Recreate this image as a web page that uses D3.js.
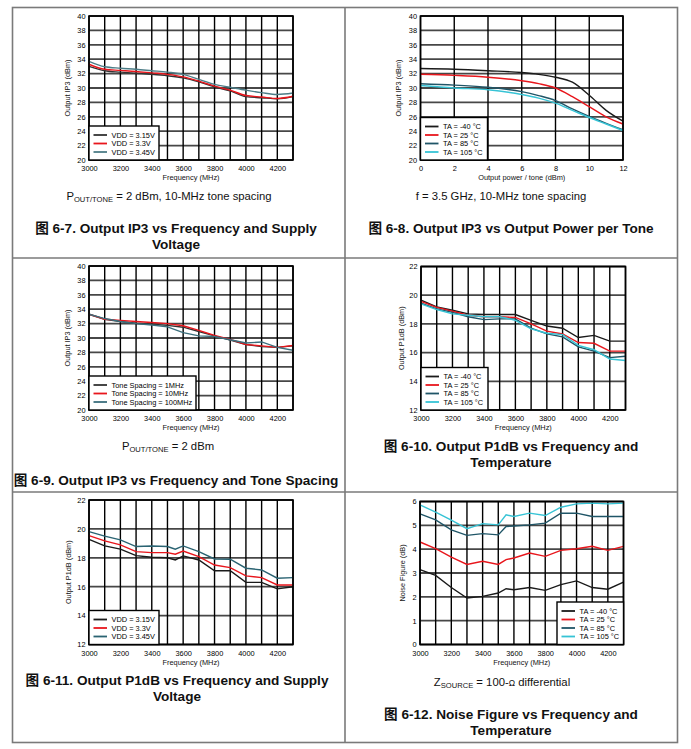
<!DOCTYPE html>
<html>
<head>
<meta charset="utf-8">
<script src="https://cdn.jsdelivr.net/npm/d3@7"></script>
<style>
  body { margin: 0; background: #fff; }
  svg { display: block; }
  text { font-family: "Liberation Sans", Arial, "Noto Sans CJK SC", sans-serif; fill: #111; }
</style>
</head>
<body>
<svg id="fig" width="691" height="749"></svg>
<script>
'use strict';

// x values
var freqA = [3000, 3100, 3200, 3300, 3400, 3500, 3600, 3700, 3800, 3900, 4000, 4100, 4200, 4300];
var freqB = [3000, 3100, 3200, 3300, 3400, 3500, 3550, 3600, 3700, 3800, 3900, 4000, 4100, 4200, 4300];
var powerTone = [0, 2, 4, 6, 7, 8, 9, 10, 11, 12];

// tick labels
var freqTicks = [3000, 3200, 3400, 3600, 3800, 4000, 4200];
var powerTicks = [0, 2, 4, 6, 8, 10, 12];
var ip3Ticks = [20, 22, 24, 26, 28, 30, 32, 34, 36, 38, 40];
var p1dbTicks = [12, 14, 16, 18, 20, 22];
var nfTicks = [0, 1, 2, 3, 4, 5, 6];

// 6-7 OIP3 vs freq / VDD
var oip3Vdd315 = [33.0, 32.4, 32.2, 32.05, 31.9, 31.7, 31.4, 30.85, 30.15, 29.6, 28.8, 28.65, 28.5, 28.8];
var oip3Vdd33  = [33.3, 32.6, 32.45, 32.3, 32.1, 31.9, 31.55, 30.95, 30.25, 29.7, 28.95, 28.75, 28.55, 28.85];
var oip3Vdd345 = [33.7, 32.95, 32.75, 32.6, 32.4, 32.2, 31.9, 31.2, 30.5, 30.1, 29.7, 29.35, 29.1, 29.3];

// 6-8 OIP3 vs output power / temp
var oip3PwrTm40 = [32.7, 32.6, 32.4, 32.15, 31.9, 31.5, 30.8, 29.0, 26.9, 25.4];
var oip3PwrT25  = [31.9, 31.75, 31.5, 31.0, 30.6, 30.0, 28.8, 27.4, 26.0, 25.0];
var oip3PwrT85  = [30.6, 30.4, 30.1, 29.5, 28.95, 28.25, 27.1, 26.05, 25.1, 24.2];
var oip3PwrT105 = [30.35, 30.0, 29.75, 29.1, 28.6, 27.9, 26.9, 25.9, 25.0, 24.1];

// 6-9 OIP3 vs freq / tone spacing
var oip3Sp1   = [33.3, 32.6, 32.3, 32.05, 31.9, 31.75, 31.5, 30.9, 30.3, 29.7, 29.1, 28.8, 28.7, 28.9];
var oip3Sp10  = [33.3, 32.6, 32.45, 32.3, 32.15, 32.0, 31.7, 31.05, 30.35, 29.8, 29.1, 28.9, 28.7, 28.95];
var oip3Sp100 = [33.3, 32.7, 32.3, 32.0, 31.8, 31.55, 30.75, 30.3, 30.2, 29.75, 29.3, 29.45, 28.7, 28.3];

// 6-10 P1dB vs freq / temp
var p1dbTm40 = [19.65, 19.18, 18.95, 18.7, 18.65, 18.65, 18.65, 18.25, 17.85, 17.7, 17.05, 17.2, 16.8, 16.8];
var p1dbT25  = [19.57, 19.15, 18.88, 18.6, 18.5, 18.5, 18.45, 18.0, 17.5, 17.3, 16.7, 16.65, 16.1, 16.1];
var p1dbT85  = [19.45, 19.05, 18.8, 18.5, 18.3, 18.35, 18.35, 17.7, 17.3, 17.1, 16.4, 16.1, 15.65, 15.75];
var p1dbT105 = [19.4, 19.0, 18.7, 18.6, 18.5, 18.5, 18.25, 17.65, 17.35, 17.25, 16.5, 16.2, 15.55, 15.45];

// 6-11 P1dB vs freq / VDD
var p1dbVdd315 = [19.28, 18.82, 18.6, 18.15, 18.04, 18.0, 17.85, 18.13, 17.85, 17.1, 17.1, 16.3, 16.3, 15.85, 16.0];
var p1dbVdd33  = [19.53, 19.17, 18.9, 18.43, 18.36, 18.36, 18.25, 18.47, 18.08, 17.5, 17.32, 16.75, 16.63, 16.12, 16.12];
var p1dbVdd345 = [19.81, 19.5, 19.24, 18.78, 18.82, 18.78, 18.6, 18.82, 18.43, 17.92, 17.9, 17.28, 17.16, 16.59, 16.63];

// 6-12 NF vs freq / temp
var nfTm40 = [3.14, 2.9, 2.39, 1.95, 2.02, 2.16, 2.34, 2.3, 2.39, 2.27, 2.51, 2.67, 2.39, 2.32, 2.62];
var nfT25  = [4.3, 4.02, 3.67, 3.36, 3.49, 3.36, 3.56, 3.63, 3.84, 3.7, 3.95, 4.02, 4.12, 3.95, 4.12];
var nfT85  = [5.48, 5.23, 4.81, 4.58, 4.65, 4.6, 4.95, 4.97, 5.02, 5.09, 5.51, 5.51, 5.37, 5.37, 5.37];
var nfT105 = [5.86, 5.55, 5.22, 4.86, 5.07, 5.02, 5.44, 5.37, 5.51, 5.41, 5.76, 5.9, 5.93, 5.9, 5.93];

var BLACK = '#1a1a1a', RED = '#e8161c', TEAL = '#1f5567', CYAN = '#36c3d5';

var svg = d3.select('#fig');

// page frame
svg.append('rect')
  .attr('x', 12.5).attr('y', 7.5).attr('width', 665).attr('height', 735)
  .attr('fill', 'none').attr('stroke', '#7a7a7a').attr('stroke-width', 1.6);
svg.append('line').attr('x1', 345).attr('x2', 345).attr('y1', 7.5).attr('y2', 742.5)
  .attr('stroke', '#7a7a7a').attr('stroke-width', 1.6);
[258, 492].forEach(function(yy) {
  svg.append('line').attr('x1', 12.5).attr('x2', 677.5).attr('y1', yy).attr('y2', yy)
    .attr('stroke', '#7a7a7a').attr('stroke-width', 1.6);
});

function drawChart(c) {
  var g = svg.append('g');
  var x = d3.scaleLinear().domain(c.xDomain).range([c.x0, c.x1]);
  var y = d3.scaleLinear().domain(c.yDomain).range([c.y1, c.y0]);

  // horizontal grid (grey)
  g.selectAll('.hgrid').data(c.yGrid).enter().append('line')
    .attr('class', 'hgrid')
    .attr('x1', c.x0).attr('x2', c.x1)
    .attr('y1', d => y(d)).attr('y2', d => y(d))
    .attr('stroke', '#474747').attr('stroke-width', 1.8);
  // vertical grid (black)
  g.selectAll('.vgrid').data(c.xGrid).enter().append('line')
    .attr('class', 'vgrid')
    .attr('x1', d => x(d)).attr('x2', d => x(d))
    .attr('y1', c.y0).attr('y2', c.y1)
    .attr('stroke', '#000').attr('stroke-width', 1.4);

  // series
  var line = d3.line().x(d => x(d[0])).y(d => y(d[1])).curve(c.curve || d3.curveLinear);
  c.series.forEach(function(s) {
    g.append('path')
      .datum(c.xs.map((v, i) => [v, s.values[i]]))
      .attr('d', line)
      .attr('fill', 'none')
      .attr('stroke', s.color)
      .attr('stroke-width', 1.4);
  });

  g.append('rect')
    .attr('x', c.x0).attr('y', c.y0).attr('width', c.x1 - c.x0).attr('height', c.y1 - c.y0)
    .attr('fill', 'none').attr('stroke', '#000').attr('stroke-width', 1.6);

  // axes
  var xa = g.append('g').attr('transform', 'translate(0,' + c.y1 + ')')
    .call(d3.axisBottom(x).tickValues(c.xTicks).tickSize(0).tickPadding(6).tickFormat(d3.format('d')));
  var ya = g.append('g').attr('transform', 'translate(' + c.x0 + ',0)')
    .call(d3.axisLeft(y).tickValues(c.yTicks).tickSize(0).tickPadding(3.5).tickFormat(d3.format('d')));
  [xa, ya].forEach(function(a) {
    a.select('.domain').remove();
    a.attr('font-family', null).attr('font-size', null);
    a.selectAll('text').attr('font-size', 7.4).style('fill', '#000');
  });

  g.append('text')
    .attr('x', (c.x0 + c.x1) / 2).attr('y', c.y1 + 20)
    .attr('text-anchor', 'middle').attr('font-size', 7.4).style('fill', '#111')
    .text(c.xTitle);
  g.append('text')
    .attr('transform', 'translate(' + (c.x0 - c.yTitleOff) + ',' + ((c.y0 + c.y1) / 2) + ')rotate(-90)')
    .attr('text-anchor', 'middle').attr('dy', '0.35em')
    .attr('font-size', 7.3).style('fill', '#111')
    .text(c.yTitle);

  // legend
  var n = c.series.length;
  var lh = n * 8.5 + 8.5;
  var lx = c.legendRight ? c.x1 - c.legendW : c.x0;
  var ly = c.y1 - lh;
  var lg = g.append('g');
  lg.append('rect')
    .attr('x', lx).attr('y', ly).attr('width', c.legendW).attr('height', lh)
    .attr('fill', '#fff').attr('stroke', '#000').attr('stroke-width', 1.4);
  c.series.forEach(function(s, i) {
    var ry = ly + 9 + i * 8.5;
    lg.append('line')
      .attr('x1', lx + 4.5).attr('x2', lx + 18).attr('y1', ry).attr('y2', ry)
      .attr('stroke', s.color).attr('stroke-width', 1.8);
    lg.append('text')
      .attr('x', lx + 22.5).attr('y', ry).attr('dy', '0.35em')
      .attr('font-size', 7.4).style('fill', '#000')
      .text(s.name);
  });
}

function caption(cx, y, lines) {
  lines.forEach(function(t, i) {
    svg.append('text')
      .attr('x', cx).attr('y', y + i * 15.5)
      .attr('text-anchor', 'middle')
      .attr('font-size', 13.6).attr('font-weight', 'bold')
      .text(t);
  });
}

function note(cx, y, parts) {
  var t = svg.append('text').attr('x', cx).attr('y', y)
    .attr('text-anchor', 'middle').attr('font-size', 11.3).style('fill', '#111');
  parts.forEach(function(p) {
    var ts = t.append('tspan').text(p.t);
    if (p.sub) ts.attr('font-size', 7.6).attr('dy', 2);
    else if (p.after) ts.attr('dy', -2);
    if (p.size) ts.attr('font-size', p.size);
  });
}

var freqCommon = {
  xDomain: [3000, 4300], xs: freqA, xTicks: freqTicks, xGrid: freqA, xTitle: 'Frequency (MHz)'
};

drawChart(Object.assign({}, freqCommon, {
  x0: 89, x1: 293, y0: 16, y1: 160,
  yDomain: [20, 40], yTicks: ip3Ticks, yGrid: ip3Ticks, yTitle: 'Output IP3 (dBm)', yTitleOff: 21.5,
  curve: d3.curveMonotoneX, legendW: 70,
  series: [
    { name: 'VDD = 3.15V', color: '#333', values: oip3Vdd315 },
    { name: 'VDD = 3.3V', color: RED, values: oip3Vdd33 },
    { name: 'VDD = 3.45V', color: '#4d7d87', values: oip3Vdd345 }
  ]
}));

drawChart({
  x0: 420.5, x1: 623, y0: 16, y1: 160,
  xDomain: [0, 12], xs: powerTone, xTicks: powerTicks, xGrid: powerTicks, xTitle: 'Output power / tone (dBm)',
  yDomain: [20, 40], yTicks: ip3Ticks, yGrid: ip3Ticks, yTitle: 'Output IP3 (dBm)', yTitleOff: 22,
  curve: d3.curveMonotoneX, legendW: 67,
  series: [
    { name: 'TA = -40 \u00B0C', color: BLACK, values: oip3PwrTm40 },
    { name: 'TA = 25 \u00B0C', color: RED, values: oip3PwrT25 },
    { name: 'TA = 85 \u00B0C', color: TEAL, values: oip3PwrT85 },
    { name: 'TA = 105 \u00B0C', color: CYAN, values: oip3PwrT105 }
  ]
});

drawChart(Object.assign({}, freqCommon, {
  x0: 89, x1: 293, y0: 266, y1: 410,
  yDomain: [20, 40], yTicks: ip3Ticks, yGrid: ip3Ticks, yTitle: 'Output IP3 (dBm)', yTitleOff: 21.5,
  legendW: 107,
  series: [
    { name: 'Tone Spacing = 1MHz', color: '#333', values: oip3Sp1 },
    { name: 'Tone Spacing = 10MHz', color: RED, values: oip3Sp10 },
    { name: 'Tone Spacing = 100MHz', color: '#3b6f7d', values: oip3Sp100 }
  ]
}));

drawChart(Object.assign({}, freqCommon, {
  x0: 421, x1: 625.5, y0: 266.5, y1: 410,
  yDomain: [12, 22], yTicks: p1dbTicks, yGrid: p1dbTicks, yTitle: 'Output P1dB (dBm)', yTitleOff: 20,
  legendW: 67,
  series: [
    { name: 'TA = -40 \u00B0C', color: BLACK, values: p1dbTm40 },
    { name: 'TA = 25 \u00B0C', color: RED, values: p1dbT25 },
    { name: 'TA = 85 \u00B0C', color: TEAL, values: p1dbT85 },
    { name: 'TA = 105 \u00B0C', color: CYAN, values: p1dbT105 }
  ]
}));

drawChart(Object.assign({}, freqCommon, {
  x0: 89, x1: 293, y0: 500, y1: 644.5, xs: freqB,
  yDomain: [12, 22], yTicks: p1dbTicks, yGrid: p1dbTicks, yTitle: 'Output P1dB (dBm)', yTitleOff: 21,
  legendW: 70,
  series: [
    { name: 'VDD = 3.15V', color: BLACK, values: p1dbVdd315 },
    { name: 'VDD = 3.3V', color: RED, values: p1dbVdd33 },
    { name: 'VDD = 3.45V', color: '#2a6372', values: p1dbVdd345 }
  ]
}));

drawChart(Object.assign({}, freqCommon, {
  x0: 420, x1: 623.5, y0: 501.5, y1: 644.5, xs: freqB,
  yDomain: [0, 6], yTicks: nfTicks, yGrid: nfTicks, yTitle: 'Noise Figure (dB)', yTitleOff: 18,
  legendW: 66.5, legendRight: true,
  series: [
    { name: 'TA = -40 \u00B0C', color: BLACK, values: nfTm40 },
    { name: 'TA = 25 \u00B0C', color: RED, values: nfT25 },
    { name: 'TA = 85 \u00B0C', color: TEAL, values: nfT85 },
    { name: 'TA = 105 \u00B0C', color: CYAN, values: nfT105 }
  ]
}));

// notes under plots
note(169, 200, [{ t: 'P' }, { t: 'OUT/TONE', sub: true }, { t: ' = 2 dBm, 10-MHz tone spacing', after: true }]);
note(501, 200, [{ t: 'f = 3.5 GHz, 10-MHz tone spacing' }]);
note(168, 450, [{ t: 'P' }, { t: 'OUT/TONE', sub: true }, { t: ' = 2 dBm', after: true }]);
note(502, 686, [{ t: 'Z' }, { t: 'SOURCE', sub: true }, { t: ' = 100-', after: true }, { t: '\u03A9', size: 8.5 }, { t: '  differential', size: 11.3 }]);

// figure captions
caption(176, 233, ['\u56FE 6-7. Output IP3 vs Frequency and Supply', 'Voltage']);
caption(511, 233, ['\u56FE 6-8. Output IP3 vs Output Power per Tone']);
caption(176, 485, ['\u56FE 6-9. Output IP3 vs Frequency and Tone Spacing']);
caption(511, 451, ['\u56FE 6-10. Output P1dB vs Frequency and', 'Temperature']);
caption(177, 685, ['\u56FE 6-11. Output P1dB vs Frequency and Supply', 'Voltage']);
caption(511, 719, ['\u56FE 6-12. Noise Figure vs Frequency and', 'Temperature']);
</script>
</body>
</html>
